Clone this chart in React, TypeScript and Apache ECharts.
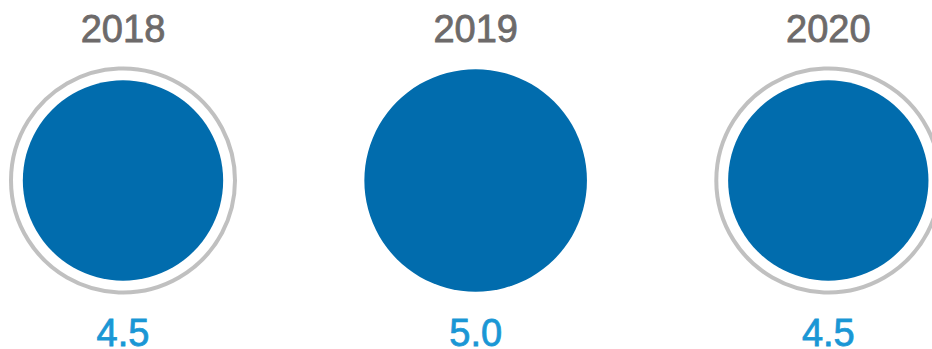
import React, { useEffect, useRef } from "react";
import * as echarts from "echarts";

const years = ["2018", "2019", "2020"];
const ratings = [4.5, 5.0, 4.5];
const maxRating = 5;

const FULL_DIAMETER = 222.6;

export default function App() {
  const ref = useRef<HTMLDivElement>(null);
  useEffect(() => {
    if (!ref.current) return;
    const chart = echarts.init(ref.current, undefined, { renderer: "svg" });
    const dots = ratings.map((r, i) => [years[i], 0.5, r]);
    const rings = ratings
      .map((r, i) => (r < maxRating ? [years[i], 0.5, maxRating] : null))
      .filter((d) => d !== null);
    chart.setOption({
      animation: false,
      grid: { left: 123, right: 103.7, top: 80, bottom: 68 },
      xAxis: {
        type: "category",
        data: years,
        position: "top",
        boundaryGap: false,
        axisLine: { show: false },
        axisTick: { show: false },
        splitLine: { show: false },
        axisLabel: {
          fontSize: 38,
          color: "#6d6a6a",
          fontFamily: "Liberation Sans, Arial, sans-serif",
          verticalAlign: "middle",
          margin: 51,
          textBorderColor: "#6d6a6a",
          textBorderWidth: 0.8,
        },
      },
      yAxis: { type: "value", min: 0, max: 1, show: false },
      series: [
        {
          type: "scatter",
          data: rings,
          symbol: "circle",
          symbolSize: 224,
          silent: true,
          itemStyle: { color: "rgba(0,0,0,0)", borderColor: "#b0b0b0", borderWidth: 4 },
          z: 1,
        },
        {
          type: "scatter",
          data: dots,
          symbol: "circle",
          symbolSize: (v: number[]) => (v[2] / maxRating) * FULL_DIAMETER,
          itemStyle: { color: "#016cad", opacity: 1 },
          z: 2,
          label: {
            show: true,
            position: "inside",
            offset: [0, 152],
            formatter: (p: any) => p.value[2].toFixed(1),
            fontSize: 38,
            lineHeight: 28,
            color: "#1a97d5",
            fontFamily: "Liberation Sans, Arial, sans-serif",
            textBorderColor: "#1a97d5",
            textBorderWidth: 0.8,
          },
        },
      ],
    });
    return () => chart.dispose();
  }, []);
  return (
    <div
      ref={ref}
      style={{ position: "fixed", left: 0, top: 0, width: 932, height: 349, background: "#fff" }}
    />
  );
}
